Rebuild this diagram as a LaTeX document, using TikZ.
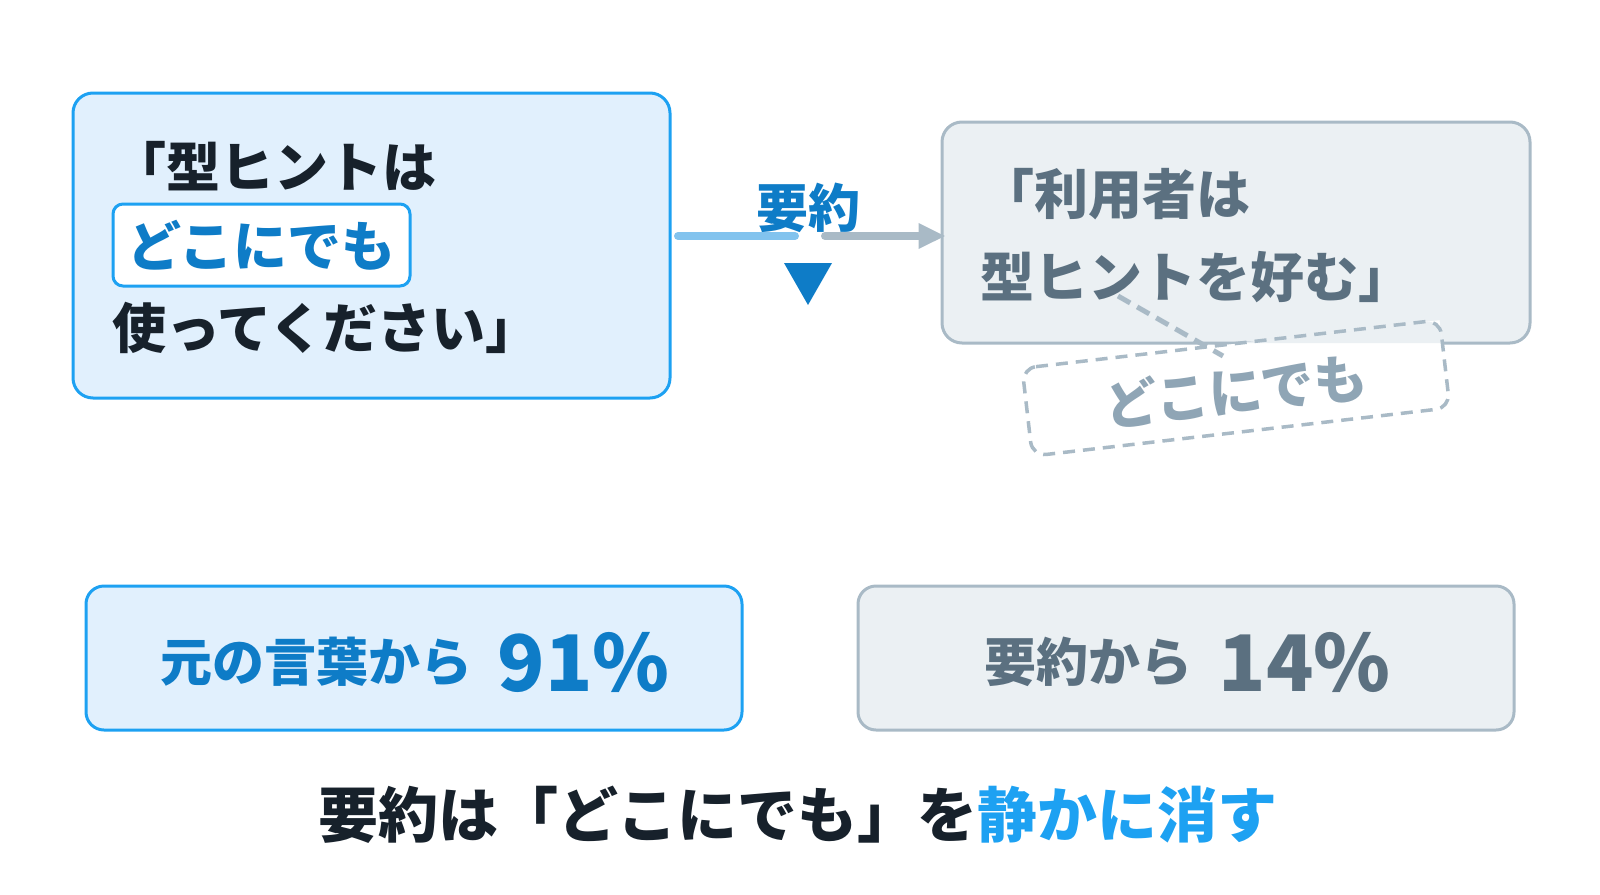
\documentclass[tikz,border=0pt]{standalone}
\usepackage{fontspec}
\setmainfont{Noto Sans CJK JP}
\usepackage{xcolor}
\usepackage{tikz}
\usetikzlibrary{arrows.meta,calc,positioning}

\definecolor{accent}{HTML}{1DA1F2}
\definecolor{deepblue}{HTML}{0E7CC7}
\definecolor{paleblue}{HTML}{E1F0FD}
\definecolor{ink}{HTML}{17212B}
\definecolor{slate}{HTML}{5B7080}
\definecolor{mist}{HTML}{A9BAC6}
\definecolor{fog}{HTML}{EBF0F3}
\definecolor{faded}{HTML}{8FA5B5}
\definecolor{sky}{HTML}{82C3EE}

\begin{document}
\begin{tikzpicture}[x=1pt,y=-1pt,
  every node/.style={inner sep=0pt},
  bluebox/.style={draw=accent,fill=paleblue,line width=3pt,rounded corners=20pt},
  graybox/.style={draw=mist,fill=fog,line width=3pt,rounded corners=20pt},
  ghostline/.style={draw=mist,line width=3.5pt,dash pattern=on 12pt off 8pt},
  txt/.style={font=\fontsize{54}{62}\selectfont\bfseries},
  lbl/.style={font=\fontsize{52}{60}\selectfont\bfseries},
  pct/.style={font=\fontsize{78}{88}\selectfont\bfseries}]
\useasboundingbox (0,0) rectangle (1600,894);

% original sentence
\node[bluebox,minimum width=597pt,minimum height=305pt] (Q) at (371.5,245.5) {};
\node[txt,text=ink,anchor=west] (Q1) at (112,166) {「型ヒントは};
\node[txt,text=deepblue,draw=accent,fill=white,line width=3pt,rounded corners=10pt,
  minimum width=297pt,minimum height=82pt] (Q2) at (261.5,245) {どこにでも};
\node[txt,text=ink,anchor=west] (Q3) at (112,328) {使ってください」};

% summary
\node[graybox,minimum width=588pt,minimum height=221pt] (R) at (1236,232.5) {};
\node[txt,text=slate,anchor=west] (R1) at (980,194) {「利用者は};
\node[txt,text=slate,anchor=west] (R2) at (980,277) {型ヒントを好む」};

% the dropped word
\node[fill=white,rotate=6.6,minimum width=420pt,minimum height=88pt] (G) at (1236,388) {};
\begin{scope}
  \clip[rounded corners=14pt] (G.north west) -- (G.north east) -- (G.south east) -- (G.south west) -- cycle;
  \fill[fog,rounded corners=18.5pt] ($(R.north west)+(1.5,1.5)$) rectangle ($(R.south east)+(-1.5,-1.5)$);
\end{scope}
\draw[ghostline,rounded corners=14pt] (G.north west) -- (G.north east) -- (G.south east) -- (G.south west) -- cycle;
\node[font=\fontsize{53}{60}\selectfont\bfseries,text=faded,rotate=6.6] (G1) at ($(G.center)+(0,3)$) {どこにでも};
\coordinate (c1) at (1118,296);
\coordinate (c2) at (1223,356);
\draw[mist,line width=5pt,dash pattern=on 14pt off 8pt] (c1) -- (c2);

% middle arrow
\node[lbl,text=deepblue] (Y) at (808,208) {要約};
\coordinate (a1) at (678,236);
\coordinate (a2) at (795,236);
\coordinate (b1) at (825,236);
\draw[sky,line width=8pt,line cap=round] (a1) -- (a2);
\draw[mist,line width=8pt,line cap=round,-{Triangle[length=27pt,width=24pt]}] (b1) -- ($(R.west |- b1)+(5,0)$);
\fill[deepblue] (784,263) -- (832,263) -- (808,305) -- cycle;

% shares
\node[bluebox,rounded corners=18pt,minimum width=656pt,minimum height=144pt] (P) at (414,658) {};
\node[lbl,text=deepblue,anchor=west] (P1) at (160,662) {元の言葉から};
\node[pct,text=deepblue,right=25pt of P1] (P2) {91\%};
\node[graybox,rounded corners=18pt,minimum width=656pt,minimum height=144pt] (S) at (1186,658) {};
\node[lbl,text=slate,anchor=west] (S1) at (984,662) {要約から};
\node[pct,text=slate,right=26pt of S1] (S2) {14\%};

% conclusion
\node[font=\fontsize{60}{68}\selectfont\bfseries,text=ink] (T) at (798,815)
  {要約は「どこにでも」を\textcolor{accent}{静かに消す}};
\end{tikzpicture}
\end{document}
